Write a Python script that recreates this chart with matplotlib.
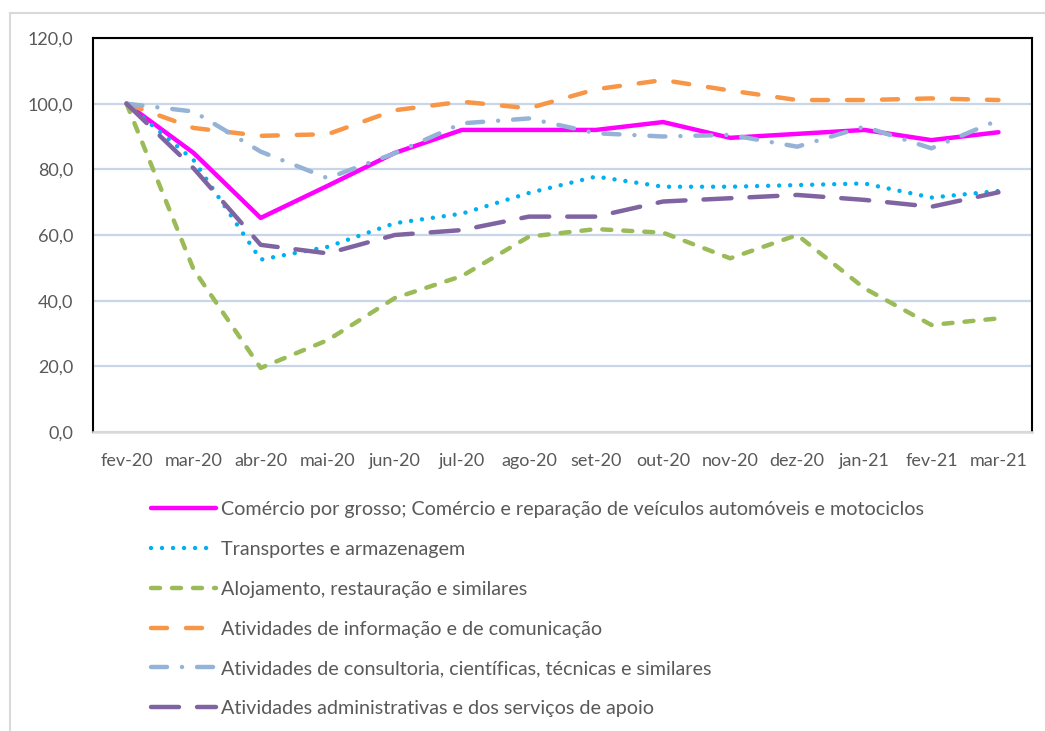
import matplotlib
matplotlib.use("Agg")
import matplotlib.pyplot as plt
from matplotlib.lines import Line2D

plt.rcParams['font.family'] = ['Lato', 'DejaVu Sans']
plt.rcParams['lines.scale_dashes'] = False

months = ["fev-20", "mar-20", "abr-20", "mai-20", "jun-20", "jul-20", "ago-20",
          "set-20", "out-20", "nov-20", "dez-20", "jan-21", "fev-21", "mar-21"]

labels = [
    "Comércio por grosso; Comércio e reparação de veículos automóveis e motociclos",
    "Transportes e armazenagem",
    "Alojamento, restauração e similares",
    "Atividades de informação e de comunicação",
    "Atividades de consultoria, científicas, técnicas e similares",
    "Atividades administrativas e dos serviços de apoio",
]

comercio = [100, 85.0, 65.2, 75.0, 85.0, 92.0, 92.0, 92.0, 94.4, 89.6, 90.8, 92.0, 88.9, 91.3]
transportes = [100, 82.8, 52.5, 56.4, 63.6, 66.5, 72.8, 77.8, 74.7, 74.7, 75.2, 75.7, 71.4, 73.4]
alojamento = [100, 49.5, 19.5, 28.0, 40.8, 47.5, 59.5, 61.8, 60.7, 52.9, 60.0, 43.8, 32.6, 34.6]
informacao = [100, 92.6, 90.2, 90.7, 98.0, 100.6, 98.6, 104.4, 107.2, 104.0, 101.1, 101.1, 101.6, 101.1]
consultoria = [100, 97.6, 85.4, 77.3, 84.9, 94.0, 95.5, 91.0, 90.0, 90.5, 86.9, 93.0, 86.4, 95.0]
administrativas = [100, 80.3, 57.0, 54.4, 60.0, 61.5, 65.6, 65.6, 70.2, 71.2, 72.2, 70.7, 68.6, 73.0]

series = [comercio, transportes, alojamento, informacao, consultoria, administrativas]
colors = ["#FF00FF", "#00B0F0", "#9BBB59", "#F79646", "#95B3D7", "#8064A2"]
px = 0.72
styles = [
    dict(linestyle="-", solid_capstyle="round"),
    dict(dashes=(0.01, 11 * px), dash_capstyle="round"),
    dict(dashes=(9 * px, 12 * px), dash_capstyle="round"),
    dict(dashes=(16 * px, 19 * px), dash_capstyle="round"),
    dict(dashes=(16 * px, 15 * px, 0.01, 15 * px), dash_capstyle="round"),
    dict(dashes=(28 * px, 18 * px), dash_capstyle="round"),
]

fig = plt.figure(figsize=(10.45, 7.31), dpi=100)
ax = fig.add_axes([93 / 1045, 1 - 432 / 731, (1032 - 93) / 1045, (432 - 38) / 731])

x = list(range(len(months)))
lw = 3.2
handles = []
for vals, c, st, lab in zip(series, colors, styles, labels):
    ln, = ax.plot(x, vals, color=c, lw=lw, label=lab, solid_joinstyle="round", **st)
    handles.append(ln)

ax.set_xlim(-0.5, len(months) - 0.5)
ax.set_ylim(0, 120)
ax.set_yticks(range(0, 121, 20))
ax.set_yticklabels([f"{v:.1f}".replace(".", ",") for v in range(0, 121, 20)])
ax.set_xticks(x)
ax.set_xticklabels(months)
ax.tick_params(axis="both", length=0, labelsize=13, labelcolor="#595959")
ax.tick_params(axis="y", pad=14)
ax.tick_params(axis="x", pad=15)
ax.yaxis.grid(True, color="#C9D6EA", lw=1.6)
ax.set_axisbelow(True)
for s in ["left", "top", "right"]:
    ax.spines[s].set_color("black")
    ax.spines[s].set_linewidth(1.5)
ax.spines["bottom"].set_color("#D9D9D9")
ax.spines["bottom"].set_linewidth(1.8)

fig.legend(handles=handles, labels=labels, loc="upper left",
           bbox_to_anchor=(143 / 1045, 1 - 493 / 731), frameon=False,
           fontsize=14.2, labelcolor="#595959", handlelength=3.3,
           handletextpad=0.25, labelspacing=1.16, borderaxespad=0)

# chart area border (left and top visible)
fig.add_artist(Line2D([10 / 1045, 10 / 1045], [0, 1 - 13 / 731], color="#D9D9D9", lw=1.5,
                      transform=fig.transFigure))
fig.add_artist(Line2D([10 / 1045, 1], [1 - 13 / 731, 1 - 13 / 731], color="#D9D9D9", lw=1.5,
                      transform=fig.transFigure))

fig.savefig("out.png", dpi=100)
